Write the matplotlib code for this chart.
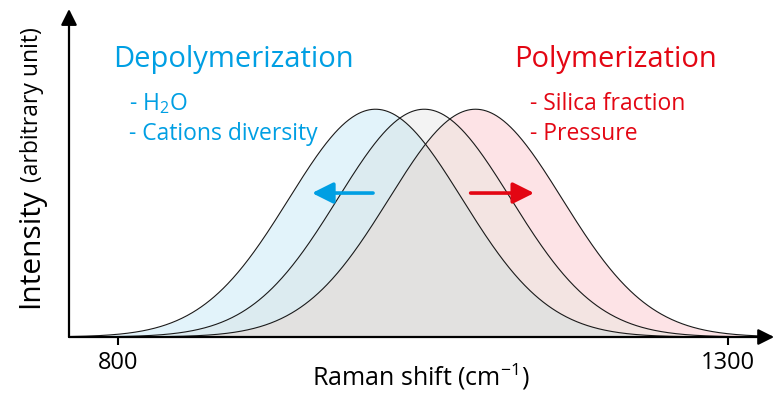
import numpy as np
import matplotlib
matplotlib.use("Agg")
import matplotlib.pyplot as plt

plt.rcParams['font.family'] = ['Open Sans', 'DejaVu Sans']
plt.rcParams['mathtext.fontset'] = 'custom'
plt.rcParams['mathtext.rm'] = 'Open Sans'

# band parameters (Raman shift, cm-1)
centers = [1011, 1051, 1093]       # depolymerized, reference, polymerized
widths = [71, 71, 71]
heights = [1.0, 1.0, 1.0]
tick_vals = [800, 1300]
tick_labels = ['800', '1300']

blue = '#009fe3'
red = '#e30613'

x = np.linspace(760, 1336, 800)
b, g, p = [h * np.exp(-(x - c) ** 2 / (2 * w ** 2)) for c, w, h in zip(centers, widths, heights)]

fig = plt.figure(figsize=(7.74, 3.95), dpi=100)
ax = fig.add_axes([69 / 774, 58 / 395, 703 / 774, 328 / 395])
ax.set_xlim(759.8, 1336)
ax.set_ylim(0, 1.44)

# overlapping fills, layered so every region gets its own tint
ax.fill_between(x, 0, b, color='#e2f3fa', lw=0)
ax.fill_between(x, 0, p, color='#fde3e6', lw=0)
ax.fill_between(x, 0, g, color='#f3f3f3', lw=0)
ax.fill_between(x, 0, np.minimum(b, g), color='#dcebf0', lw=0)
ax.fill_between(x, 0, np.minimum(p, g), color='#f3e4e2', lw=0)
ax.fill_between(x, 0, np.minimum(b, p), color='#e2e1e0', lw=0)
for y in (b, g, p):
    ax.plot(x, y, color='#1a1a1a', lw=0.8)

for s in ax.spines.values():
    s.set_visible(False)
ax.set_yticks([])
ax.set_xticks(tick_vals)
ax.set_xticklabels(tick_labels, fontsize=17)
ax.tick_params(axis='x', length=6, width=1.5, pad=4)

# axis arrows
ax.annotate('', xy=(1.003, 0), xytext=(0, 0), xycoords='axes fraction',
            arrowprops=dict(arrowstyle='-|>', color='black', lw=1.6, mutation_scale=24,
                            shrinkA=0, shrinkB=0), annotation_clip=False)
ax.annotate('', xy=(0, 1.0), xytext=(0, 0), xycoords='axes fraction',
            arrowprops=dict(arrowstyle='-|>', color='black', lw=1.6, mutation_scale=24,
                            shrinkA=0, shrinkB=0), annotation_clip=False)

# shift arrows
ax.annotate('', xy=(959, 0.632), xytext=(1009, 0.632),
            arrowprops=dict(arrowstyle='-|>', color=blue, lw=2.6, mutation_scale=32,
                            shrinkA=0, shrinkB=0))
ax.annotate('', xy=(1141, 0.632), xytext=(1089, 0.632),
            arrowprops=dict(arrowstyle='-|>', color=red, lw=2.6, mutation_scale=32,
                            shrinkA=0, shrinkB=0))

ax.text(796, 1.184, 'Depolymerization', color=blue, fontsize=21, va='baseline')
ax.text(809, 0.996, r'- H$_\mathregular{2}$O', color=blue, fontsize=16.5, va='baseline')
ax.text(809, 0.864, '- Cations diversity', color=blue, fontsize=16.5, va='baseline')
ax.text(1125, 1.184, 'Polymerization', color=red, fontsize=21, va='baseline')
ax.text(1138, 0.996, '- Silica fraction', color=red, fontsize=16.5, va='baseline')
ax.text(1138, 0.864, '- Pressure', color=red, fontsize=16.5, va='baseline')

fig.text(421 / 774, 1 - 386 / 395, r'Raman shift (cm$^\mathregular{-1}$)', fontsize=18,
         ha='center', va='baseline')

fig.text(38 / 774, 1 - 308 / 395, 'Intensity', rotation=90, rotation_mode='anchor',
         ha='left', va='baseline', fontsize=21.5)
fig.text(38 / 774, 1 - 182 / 395, '(arbitrary unit)', rotation=90, rotation_mode='anchor',
         ha='left', va='baseline', fontsize=16.5)

fig.savefig('out.png', dpi=100)
